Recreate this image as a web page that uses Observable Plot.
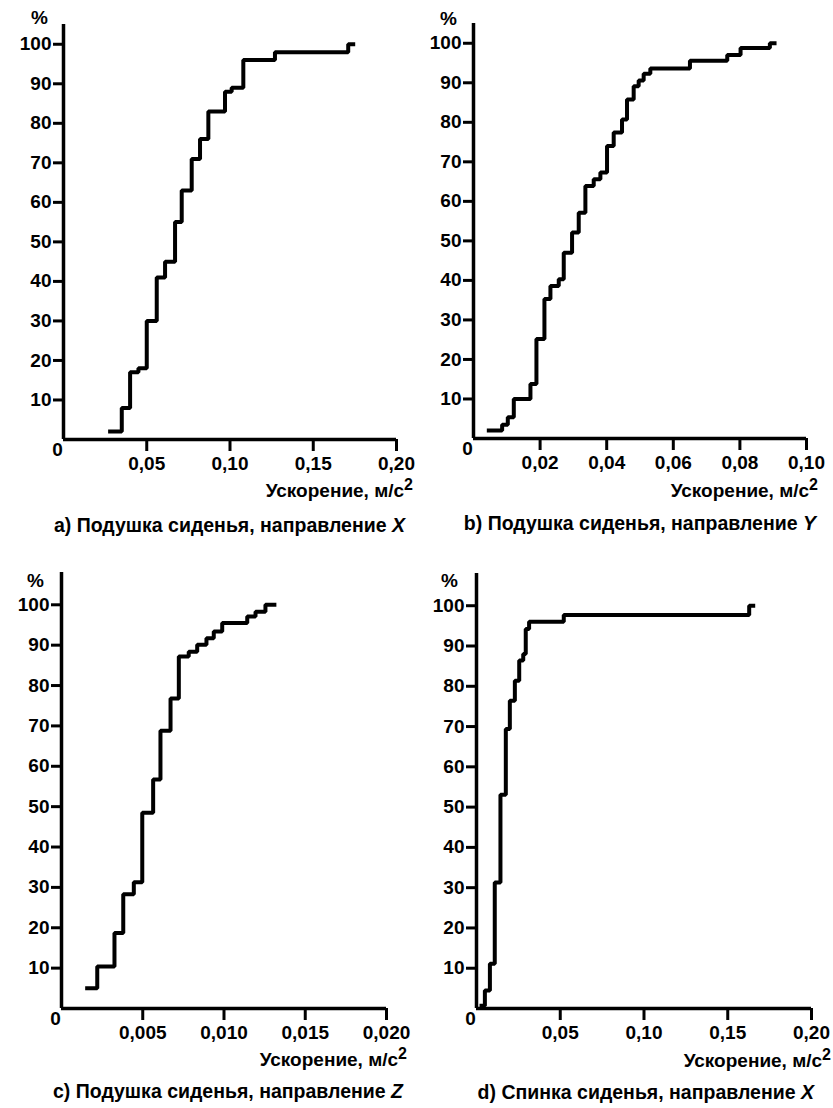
<!DOCTYPE html>
<html>
<head>
<meta charset="utf-8">
<script src="https://cdn.jsdelivr.net/npm/d3@7"></script>
<script src="https://cdn.jsdelivr.net/npm/@observablehq/plot@0.6"></script>
<style>
  html, body { margin: 0; padding: 0; background: #fff; }
  #root { position: relative; width: 833px; height: 1108px; background: #fff; font-family: "Liberation Sans", Arial, sans-serif; font-weight: bold; color: #000; overflow: hidden; }
  .pl { position: absolute; }
  .txt { position: absolute; white-space: nowrap; font-family: "Liberation Sans", Arial, sans-serif; font-weight: bold; color: #000; line-height: 22px; }
  .pct { font-size: 19px; }
  .axl { font-size: 19px; text-align: right; }
  .axl sup { font-size: 16px; vertical-align: 7px; line-height: 0; }
  .cap { font-size: 19.5px; text-align: right; }
</style>
</head>
<body>
<div id="root"></div>
<script>
// ---- Data ----
// a) Seat cushion, direction X
const aX = [0.028, 0.035, 0.040, 0.045, 0.050, 0.056, 0.061, 0.067, 0.071, 0.077, 0.082, 0.087, 0.097, 0.101, 0.108, 0.127, 0.171, 0.174];
const aY = [2, 8, 17, 18, 30, 41, 45, 55, 63, 71, 76, 83, 88, 89, 96, 98, 100, 100];
// b) Seat cushion, direction Y
const bX = [0.0046, 0.0086, 0.0103, 0.0121, 0.0171, 0.0189, 0.0213, 0.0231, 0.0256, 0.0271, 0.0296, 0.0316, 0.0336, 0.0361, 0.0381, 0.0401, 0.0421, 0.0446, 0.0461, 0.0481, 0.0496, 0.0511, 0.0531, 0.0650, 0.0762, 0.0802, 0.0890, 0.0904];
const bY = [2, 3.5, 5.4, 10, 13.8, 25.2, 35.3, 38.6, 40.3, 47, 52.1, 57.1, 63.9, 65.6, 67.3, 74, 77.4, 80.7, 85.8, 89.1, 90.6, 92.3, 93.6, 95.6, 97, 98.8, 100, 100];
// c) Seat cushion, direction Z
const cX = [0.00158, 0.0022, 0.00326, 0.0038, 0.00445, 0.00497, 0.00564, 0.00609, 0.00671, 0.00722, 0.00783, 0.00835, 0.00892, 0.00937, 0.00989, 0.01143, 0.01194, 0.01255, 0.0131];
const cY = [5, 10.4, 18.7, 28.3, 31.3, 48.5, 56.7, 68.8, 76.8, 87.2, 88.4, 90.1, 91.7, 93.4, 95.5, 97.1, 98.3, 100, 100];
// d) Seat back, direction X
const dX = [0.003, 0.005, 0.008, 0.0109, 0.0143, 0.0175, 0.0199, 0.0229, 0.0255, 0.0279, 0.0294, 0.0314, 0.0521, 0.1628, 0.1652];
const dY = [0.7, 4.5, 11.1, 31.3, 53.1, 69.4, 76.4, 81.4, 86.4, 88, 94.2, 96, 97.7, 100, 100];

const yTicks = [10, 20, 30, 40, 50, 60, 70, 80, 90, 100];
const xTicksAD = [0.05, 0.10, 0.15, 0.20];
const xTicksB = [0.02, 0.04, 0.06, 0.08, 0.10];
const xTicksC = [0.005, 0.010, 0.015, 0.020];
const zeroLabel = [{x: 0, y: 0, label: "0"}];

const axisLabel = "Ускорение, м/с";
const captions = [
  ["a) Подушка сиденья, направление ", "X"],
  ["b) Подушка сиденья, направление ", "Y"],
  ["c) Подушка сиденья, направление ", "Z"],
  ["d) Спинка сиденья, направление ", "X"]
];

const FONT = "Liberation Sans, Arial, sans-serif";

function panel(o) {
  const data = o.xs.map((x, i) => ({x, y: o.ys[i]}));
  return Plot.plot({
    width: o.width, height: o.height,
    marginLeft: o.ml, marginRight: o.mr, marginTop: o.mt, marginBottom: o.mb,
    x: {domain: [0, o.xMax]},
    y: {domain: [0, o.yMax]},
    style: {fontFamily: FONT, fontWeight: "bold", fontSize: "19px", color: "black", background: "white", overflow: "visible"},
    marks: [
      Plot.axisY({ticks: yTicks, tickSize: 10, tickPadding: 2, tickFormat: d => String(d), strokeWidth: 3, label: null, fontWeight: "bold", fontSize: 19, fill: "black"}),
      Plot.axisX({ticks: o.xTicks, tickSize: 12, tickPadding: 5, tickFormat: o.fmt, strokeWidth: 3, label: null, fontWeight: "bold", fontSize: 19, fill: "black"}),
      Plot.ruleX([0], {stroke: "black", strokeWidth: 3.5}),
      Plot.ruleY([0], {stroke: "black", strokeWidth: 3.5}),
      Plot.text(zeroLabel, {x: "x", y: "y", text: "label", dx: -6, dy: 10, fontWeight: "bold", fontSize: 19, fill: "black"}),
      Plot.line(data, {x: "x", y: "y", curve: "step-after", stroke: "black", strokeWidth: 4, strokeLinejoin: "miter", strokeLinecap: "square"})
    ]
  });
}

const fmtN = n => d => d.toFixed(n).replace(".", ",");

const panels = [
  {left: 0, top: 0, width: 416, height: 480, ml: 63, mr: 20, mt: 24, mb: 41, yMax: 105, xMax: 0.2, xTicks: xTicksAD, fmt: fmtN(2), xs: aX, ys: aY,
   pct: [31, 7], axl: [413, 480], cap: [405, 514], cap_i: 0},
  {left: 416, top: 0, width: 417, height: 480, ml: 57, mr: 27, mt: 23, mb: 42, yMax: 105, xMax: 0.1, xTicks: xTicksB, fmt: fmtN(2), xs: bX, ys: bY,
   pct: [440, 8], axl: [818, 480], cap: [816, 512], cap_i: 1},
  {left: 0, top: 550, width: 416, height: 500, ml: 61, mr: 30, mt: 22, mb: 42, yMax: 108, xMax: 0.02, xTicks: xTicksC, fmt: fmtN(3), xs: cX, ys: cY,
   pct: [27, 570], axl: [407, 1049], cap: [403, 1080], cap_i: 2},
  {left: 416, top: 550, width: 417, height: 500, ml: 60, mr: 22, mt: 23, mb: 42, yMax: 108, xMax: 0.2, xTicks: xTicksAD, fmt: fmtN(2), xs: dX, ys: dY,
   pct: [441, 570], axl: [831, 1050], cap: [814, 1081], cap_i: 3}
];

const root = document.getElementById("root");
for (const p of panels) {
  const wrap = document.createElement("div");
  wrap.className = "pl";
  wrap.style.left = p.left + "px";
  wrap.style.top = p.top + "px";
  wrap.appendChild(panel(p));
  root.appendChild(wrap);

  const pct = document.createElement("div");
  pct.className = "txt pct";
  pct.style.left = p.pct[0] + "px";
  pct.style.top = p.pct[1] + "px";
  pct.textContent = "%";
  root.appendChild(pct);

  const axl = document.createElement("div");
  axl.className = "txt axl";
  axl.style.left = (p.axl[0] - 300) + "px";
  axl.style.width = "300px";
  axl.style.top = p.axl[1] + "px";
  axl.innerHTML = axisLabel + "<sup>2</sup>";
  root.appendChild(axl);

  const cap = document.createElement("div");
  cap.className = "txt cap";
  cap.style.left = (p.cap[0] - 400) + "px";
  cap.style.width = "400px";
  cap.style.top = p.cap[1] + "px";
  const c = captions[p.cap_i];
  cap.innerHTML = c[0] + "<i>" + c[1] + "</i>";
  root.appendChild(cap);
}
</script>
</body>
</html>
